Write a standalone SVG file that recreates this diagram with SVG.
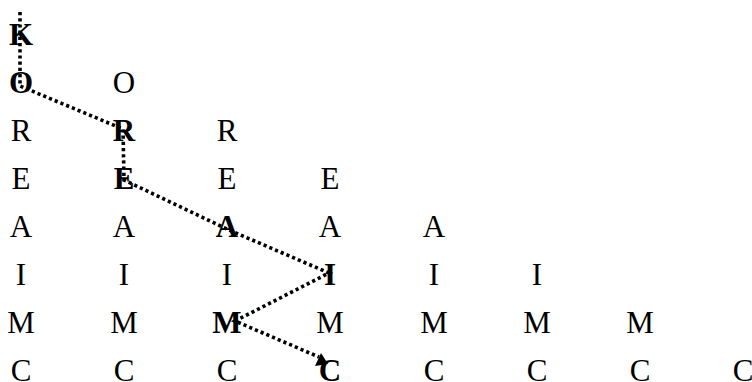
<svg xmlns="http://www.w3.org/2000/svg" width="752" height="382" viewBox="0 0 752 382">
<style>
text{font-family:"Liberation Serif","Times New Roman",serif;font-size:31px;fill:#000;text-anchor:middle}
.b{font-weight:bold}
.c{fill:none;stroke:#000;stroke-width:3.6;stroke-dasharray:3.2 3}
</style>
<rect width="752" height="382" fill="#fff"/>
<g id="col0">
<g id="n0_0"><text class="b" x="21" y="45">K</text></g>
<g id="n0_1"><text class="b" x="21" y="93">O</text></g>
<g id="n0_2"><text x="21" y="141">R</text></g>
<g id="n0_3"><text x="21" y="189">E</text></g>
<g id="n0_4"><text x="21" y="237">A</text></g>
<g id="n0_5"><text x="21" y="285">I</text></g>
<g id="n0_6"><text x="21" y="333">M</text></g>
<g id="n0_7"><text x="21" y="381">C</text></g>
</g>
<g id="col1">
<g id="n1_1"><text x="124" y="93">O</text></g>
<g id="n1_2"><text class="b" x="124" y="141">R</text></g>
<g id="n1_3"><text class="b" x="124" y="189">E</text></g>
<g id="n1_4"><text x="124" y="237">A</text></g>
<g id="n1_5"><text x="124" y="285">I</text></g>
<g id="n1_6"><text x="124" y="333">M</text></g>
<g id="n1_7"><text x="124" y="381">C</text></g>
</g>
<g id="col2">
<g id="n2_2"><text x="227" y="141">R</text></g>
<g id="n2_3"><text x="227" y="189">E</text></g>
<g id="n2_4"><text class="b" x="227" y="237">A</text></g>
<g id="n2_5"><text x="227" y="285">I</text></g>
<g id="n2_6"><text class="b" x="227" y="333">M</text></g>
<g id="n2_7"><text x="227" y="381">C</text></g>
</g>
<g id="col3">
<g id="n3_3"><text x="330" y="189">E</text></g>
<g id="n3_4"><text x="330" y="237">A</text></g>
<g id="n3_5"><text class="b" x="330" y="285">I</text></g>
<g id="n3_6"><text x="330" y="333">M</text></g>
<g id="n3_7"><text class="b" x="330" y="381">C</text></g>
</g>
<g id="col4">
<g id="n4_4"><text x="434" y="237">A</text></g>
<g id="n4_5"><text x="434" y="285">I</text></g>
<g id="n4_6"><text x="434" y="333">M</text></g>
<g id="n4_7"><text x="434" y="381">C</text></g>
</g>
<g id="col5">
<g id="n5_5"><text x="537" y="285">I</text></g>
<g id="n5_6"><text x="537" y="333">M</text></g>
<g id="n5_7"><text x="537" y="381">C</text></g>
</g>
<g id="col6">
<g id="n6_6"><text x="640" y="333">M</text></g>
<g id="n6_7"><text x="640" y="381">C</text></g>
</g>
<g id="col7">
<g id="n7_7"><text x="743" y="381">C</text></g>
</g>
<g id="connectors">
<path class="c" d="M20 12 L20 86 L123 129 L124 180 L229 230 L329 273 L235 321 L319 357"/>
<polygon points="321,353 315,366 328,364" fill="#000"/>
</g>
</svg>
